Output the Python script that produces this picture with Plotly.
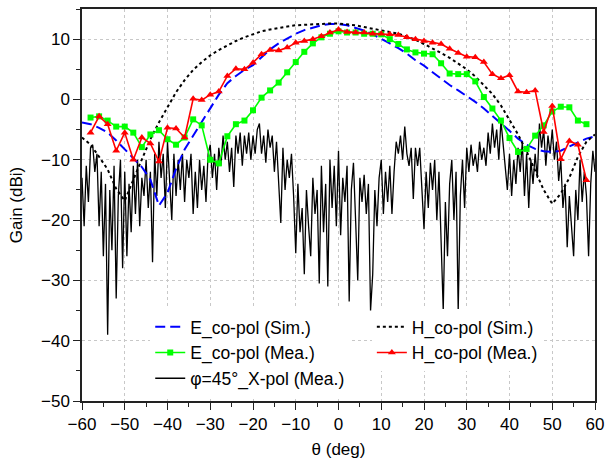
import plotly.graph_objects as go

# ---------------- data ----------------
sim_theta = [-60, -58, -56, -54, -52, -50, -48, -46, -44, -42, -40, -38, -36, -34, -32, -30,
             -28, -26, -24, -22, -20, -18, -16, -14, -12, -10, -8, -6, -4, -2, 0,
             2, 4, 6, 8, 10, 12, 14, 16, 18, 20, 22, 24, 26, 28, 30,
             32, 34, 36, 38, 40, 42, 44, 46, 48, 50, 52, 54, 56, 58, 60]

e_sim = [-3.8, -4.1, -4.7, -5.5, -6.8, -8.3, -9.7, -11.2, -13.3, -17.6, -15.5, -11.5, -8.3, -6.0, -3.8, -1.5,
         0.8, 2.7, 3.9, 4.9, 5.7, 7.0, 8.3, 9.3, 10.1, 10.9, 11.5, 11.9, 12.3, 12.5, 12.5,
         12.3, 11.9, 11.4, 10.8, 10.1, 9.3, 8.5, 7.6, 6.5, 5.6, 4.5, 3.4, 2.4, 1.5, 0.6,
         -0.4, -1.5, -2.7, -4.0, -5.2, -6.5, -7.5, -8.2, -8.6, -8.7, -8.5, -7.8, -7.1, -6.5, -6.1]

h_sim = [-6.3, -7.5, -9.5, -11.6, -14.8, -16.8, -13.3, -9.8, -6.6, -3.8, -1.2, 1.2, 3.2, 4.9, 6.2, 7.3,
         8.2, 9.0, 9.7, 10.3, 10.8, 11.3, 11.6, 11.9, 12.1, 12.3, 12.4, 12.5, 12.6, 12.6, 12.6,
         12.5, 12.3, 12.0, 11.7, 11.4, 11.2, 10.9, 10.4, 9.9, 9.2, 8.5, 7.7, 6.9, 6.0, 5.0,
         3.8, 2.4, 0.9, -1.0, -3.3, -5.8, -8.6, -11.8, -15.0, -17.3, -15.6, -13.0, -9.5, -7.0, -5.8]

mea_theta = [-58, -56, -54, -52, -50, -48, -46, -44, -42, -40, -38, -36, -34, -32, -30,
             -28, -26, -24, -22, -20, -18, -16, -14, -12, -10, -8, -6, -4, -2, 0,
             2, 4, 6, 8, 10, 12, 14, 16, 18, 20, 22, 24, 26, 28, 30,
             32, 34, 36, 38, 40, 42, 44, 46, 48, 50, 52, 54, 56, 58]

e_mea = [-3.0, -2.8, -3.5, -4.5, -4.5, -5.5, -7.9, -5.8, -5.1, -6.6, -7.5, -6.3, -3.3, -4.3, -10.0,
         -10.6, -6.1, -4.1, -3.5, -1.8, 0.3, 1.5, 2.8, 4.5, 6.2, 7.9, 9.3, 10.3, 10.9, 11.3,
         11.1, 11.1, 10.9, 10.9, 10.8, 10.0, 9.2, 8.3, 7.8, 7.6, 7.5, 6.0, 4.3, 4.2, 4.2,
         3.0, 0.4, -1.5, -3.5, -6.4, -8.7, -8.2, -6.0, -4.3, -2.0, -1.2, -1.3, -3.5, -4.1]

h_mea = [-5.5, -2.8, -4.1, -8.5, -5.5, -10.0, -6.3, -7.3, -10.3, -4.7, -4.8, -6.3, 0.1, -0.1, 0.8,
         1.3, 3.9, 5.1, 5.0, 6.1, 7.5, 8.2, 8.1, 8.6, 9.4, 9.7, 10.0, 10.5, 11.1, 11.6,
         11.2, 11.1, 11.1, 10.9, 10.9, 10.8, 10.7, 10.3, 10.0, 9.7, 9.4, 9.2, 8.4, 7.7, 7.1,
         7.0, 6.2, 4.2, 3.5, 4.0, 1.3, 1.2, 1.5, -5.4, -1.1, -9.9, -6.9, -7.5, -13.4]

# cross-pol measured, 0.5 deg step starting at -60 deg
xpol = [
    -13, -21, -11, -17, -8, -7.5, -12, -9, -21, -12,          # -60 .. -55.5
    -26, -14, -39, -15, -25, -11, -33, -16, -10, -28,         # -55 .. -50.5
    -12, -26, -14, -22, -11, -19, -10, -21, -13, -16,         # -50 .. -45.5
    -10, -18, -12, -27, -9, -16, -7, -13, -9, -18,            # -45 .. -40.5
    -7, -14, -20, -9, -16, -10, -15, -9, -17, -10,            # -40 .. -35.5
    -13, -9, -19, -12, -18, -10, -15, -11, -17, -9,           # -35 .. -30.5
    -7.5, -13, -9, -15, -8, -11, -6, -10, -7, -12,            # -30 .. -25.5
    -8, -14.5, -6, -9, -5.5, -11, -6, -9, -5.5, -10,          # -25 .. -20.5
    -6, -9, -5, -4, -9, -6, -10.5, -5, -8, -6,                # -20 .. -15.5
    -12, -7, -13, -20.5, -8, -15, -10, -13, -9, -16,          # -15 .. -10.5
    -25.5, -14, -22, -18, -29, -15, -21, -26, -13, -19,       # -10 .. -5.5
    -15, -30.5, -11, -22, -14, -31, -10, -18, -11, -21,       # -5 .. -0.5
    -8.5, -22.5, -13, -17, -11, -33.5, -15, -10.5, -20, -30,  # 0 .. 4.5
    -13, -17, -12.5, -19, -14, -35, -29, -15, -21, -13,       # 5 .. 9.5
    -10, -19, -12, -17, -11, -19, -12, -7, -9, -6,            # 10 .. 14.5
    -10, -4.5, -9, -11, -8, -16.5, -8, -11, -8, -15,          # 15 .. 19.5
    -21.5, -12, -18, -10.5, -15, -10, -20, -12, -25, -35,     # 20 .. 24.5
    -17, -26, -14, -10, -20, -12, -35, -16, -10, -18,         # 25 .. 29.5
    -8, -12, -7.5, -11, -9, -12, -7, -10, -8, -11,            # 30 .. 34.5
    -5.5, -9, -4, -8, -5, -10, -3.5, -7, -11, -15,            # 35 .. 39.5
    -9, -16, -10, -14, -8, -12, -7, -16, -9, -18,             # 40 .. 44.5
    -10, -14, -9, -13, -4, -8, -5, -11, -6, -9,               # 45 .. 49.5
    -5, -10, -7, -13.5, -10, -18, -14, -24.5, -16, -22,       # 50 .. 54.5
    -26, -15, -20, -10, -17, -12, -16, -26, -14, -8.5,        # 55 .. 59.5
    -12,                                                       # 60
]
xpol_theta = [-60 + 0.5 * i for i in range(len(xpol))]

# ---------------- figure ----------------
FONT = "Liberation Sans, Arial, sans-serif"
fig = go.Figure()

fig.add_trace(go.Scatter(
    x=xpol_theta, y=xpol, mode="lines", name="φ=45°_X-pol (Mea.)",
    line=dict(color="black", width=1.3), legend="legend", legendrank=3))
fig.add_trace(go.Scatter(
    x=sim_theta, y=e_sim, mode="lines", name="E_co-pol (Sim.)",
    line=dict(color="#0000FF", width=2, dash="10px,5px"), legend="legend", legendrank=1))
fig.add_trace(go.Scatter(
    x=sim_theta, y=h_sim, mode="lines", name="H_co-pol (Sim.)",
    line=dict(color="black", width=2, dash="3px,3px"), legend="legend2", legendrank=1))
fig.add_trace(go.Scatter(
    x=mea_theta, y=e_mea, mode="lines+markers", name="E_co-pol (Mea.)",
    line=dict(color="#00FF00", width=1.6),
    marker=dict(symbol="square", size=6, color="#00FF00"), legend="legend", legendrank=2))
fig.add_trace(go.Scatter(
    x=mea_theta, y=h_mea, mode="lines+markers", name="H_co-pol (Mea.)",
    line=dict(color="#FF0000", width=1.6),
    marker=dict(symbol="triangle-up", size=7, color="#FF0000"), legend="legend2", legendrank=2))

axis_common = dict(
    showline=True, linecolor="#222", linewidth=1.5, mirror=True,
    ticks="outside", ticklen=7, tickwidth=1.3, tickcolor="#222",
    showgrid=True, gridcolor="#c8c8c8", griddash="dot", gridwidth=1,
    zeroline=False, tickfont=dict(family=FONT, size=17, color="black"),
    minor=dict(ticks="outside", ticklen=4, tickwidth=1.2, tickcolor="#222", showgrid=False),
    automargin=False,
)

fig.update_xaxes(range=[-60, 60], tickmode="linear", tick0=-60, dtick=10,
                 title=dict(text="θ (deg)", font=dict(family=FONT, size=17, color="black"), standoff=10),
                 **axis_common)
fig.update_xaxes(minor_dtick=5)
fig.update_yaxes(range=[-50, 15], tickmode="array", tickvals=[-50, -40, -30, -20, -10, 0, 10],
                 title=dict(text="Gain (dBi)", font=dict(family=FONT, size=17, color="black"), standoff=14),
                 **axis_common)
fig.update_yaxes(minor=dict(tickvals=[-45, -35, -25, -15, -5, 5, 15]))

legend_common = dict(
    bgcolor="white", borderwidth=0, font=dict(family=FONT, size=17.5, color="black"),
    orientation="v", xanchor="left", yanchor="top", tracegroupgap=0, itemwidth=30,
    traceorder="normal",
)
fig.update_layout(
    width=605, height=463,
    margin=dict(l=82, r=10, t=9, b=62),
    paper_bgcolor="white", plot_bgcolor="white",
    font=dict(family=FONT, size=17, color="black"),
    showlegend=True,
    legend=dict(x=0.133, y=0.235, **legend_common),
    legend2=dict(x=0.565, y=0.235, **legend_common),
)

fig.write_html("out.html")
